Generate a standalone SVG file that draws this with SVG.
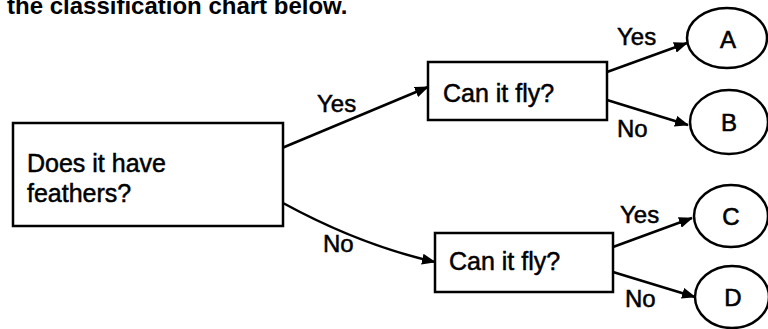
<svg xmlns="http://www.w3.org/2000/svg" width="768" height="329" viewBox="0 0 768 329">
<style>
.box{fill:#fff;stroke:#000;stroke-width:2.5}
.ell{fill:#fff;stroke:#000;stroke-width:2.5}
.txt{font-family:"Liberation Sans",Arial,sans-serif;font-size:25px;fill:#000;stroke:#000;stroke-width:0.5}
.lbl{font-family:"Liberation Sans",Arial,sans-serif;font-size:24px;fill:#000;stroke:#000;stroke-width:0.5}
.let{font-family:"Liberation Sans",Arial,sans-serif;font-size:24px;fill:#000;stroke:#000;stroke-width:0.6;text-anchor:middle}
.edge{fill:none;stroke:#000;stroke-width:2.5}
</style>
<defs>
<marker id="arr" viewBox="0 0 14 11" refX="13" refY="5.5" markerWidth="14" markerHeight="11" markerUnits="userSpaceOnUse" orient="auto">
<path d="M0,0 L14,5.5 L0,11 Z" fill="#000"/>
</marker>
</defs>
<rect width="768" height="329" fill="#fff"/>
<text x="7" y="14" style="font-family:'Liberation Sans',Arial,sans-serif;font-size:24px;font-weight:bold;fill:#000">the classification chart below.</text>

<g id="connectors">
<path class="edge" d="M282,148 L428,87" marker-end="url(#arr)"/>
<path class="edge" d="M283,203 Q360,245 435,262" marker-end="url(#arr)"/>
<path class="edge" d="M607,72 L687,43" marker-end="url(#arr)"/>
<path class="edge" d="M607,100 L688,125" marker-end="url(#arr)"/>
<path class="edge" d="M613,247 L692,218" marker-end="url(#arr)"/>
<path class="edge" d="M613,272 L695,297" marker-end="url(#arr)"/>
<text class="lbl" x="317" y="112">Yes</text>
<text class="lbl" x="323" y="252">No</text>
<text class="lbl" x="617" y="45">Yes</text>
<text class="lbl" x="617" y="137">No</text>
<text class="lbl" x="620" y="223">Yes</text>
<text class="lbl" x="625" y="307">No</text>
</g>

<g id="feathers">
<rect class="box" x="13" y="123" width="270" height="103"/>
<text class="txt" x="27" y="172">Does it have</text>
<text class="txt" x="27" y="202">feathers?</text>
</g>
<g id="fly-yes">
<rect class="box" x="428" y="62" width="179" height="58"/>
<text class="txt" x="443" y="102">Can it fly?</text>
</g>
<g id="fly-no">
<rect class="box" x="435" y="233" width="178" height="59"/>
<text class="txt" x="449" y="270">Can it fly?</text>
</g>
<g id="A">
<ellipse class="ell" cx="727" cy="38" rx="40" ry="30"/>
<text class="let" x="728" y="48">A</text>
</g>
<g id="B">
<ellipse class="ell" cx="729" cy="122" rx="39" ry="32"/>
<text class="let" x="729" y="131">B</text>
</g>
<g id="C">
<ellipse class="ell" cx="731" cy="216" rx="37" ry="31"/>
<text class="let" x="731" y="225">C</text>
</g>
<g id="D">
<ellipse class="ell" cx="732" cy="297" rx="37" ry="31"/>
<text class="let" x="733" y="306">D</text>
</g>
</svg>
